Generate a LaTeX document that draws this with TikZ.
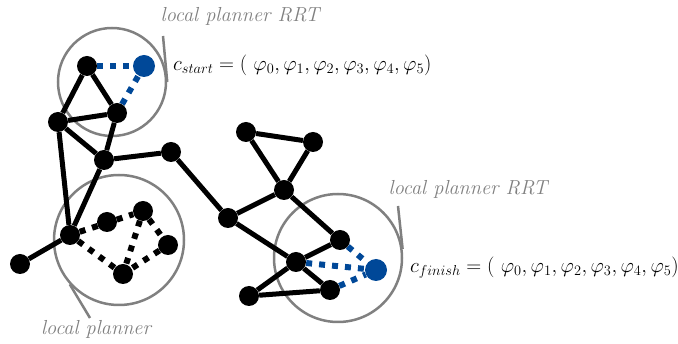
\documentclass[tikz,border=0pt]{standalone}
\usepackage{amssymb}
\usepackage{tikz}
\usetikzlibrary{shapes,arrows,backgrounds,positioning,fit}
\definecolor{rrtblue}{RGB}{0,72,152}
\definecolor{ringgray}{RGB}{128,128,128}

\begin{document}
\begin{tikzpicture}[x=1pt,y=-1pt]
			\tikzstyle{Vertex}	= [circle, fill=black, minimum size=20pt, inner sep=0pt]
			\tikzstyle{Goal}	= [circle, fill=rrtblue, minimum size=22pt, inner sep=0pt]
			\tikzstyle{Ring}	= [circle, draw=ringgray, line width=2.5pt, inner sep=0pt]
			\tikzstyle{Tail}	= [draw=ringgray, line width=2.5pt]
			\tikzstyle{Tag}		= [text=ringgray, font=\fontsize{20.3}{24}\selectfont\itshape]
			\tikzstyle{Conf}	= [font=\fontsize{20.8}{25}\selectfont, inner sep=0pt]
			\tikzstyle{Edge}	= [line width=5pt]
			\tikzstyle{Local}	= [line width=6pt, dash pattern=on 6pt off 7pt]
			\tikzstyle{RRT}		= [Local, rrtblue]

			\useasboundingbox (0,0) rectangle (678,344);

			% roadmap
			\node (a1) at (87,66) [Vertex] {};
			\node (a2) at (117,113) [Vertex] {};
			\node (a3) at (58,122) [Vertex] {};
			\node (a4) at (104,160) [Vertex] {};
			\node (a5) at (171,152) [Vertex] {};
			\node (l1) at (70,235) [Vertex] {};
			\node (l0) at (20,264) [Vertex] {};
			\node (n1) at (228,218) [Vertex] {};
			\node (t1) at (246,132) [Vertex] {};
			\node (t2) at (313,142) [Vertex] {};
			\node (t3) at (284,190) [Vertex] {};
			\node (f1) at (340,240) [Vertex] {};
			\node (f2) at (296,262) [Vertex] {};
			\node (f3) at (330,290) [Vertex] {};
			\node (f4) at (249,296) [Vertex] {};

			% local planner samples
			\node (i1) at (107,222) [Vertex] {};
			\node (i2) at (143,211) [Vertex] {};
			\node (i3) at (168,245) [Vertex] {};
			\node (i4) at (123,274) [Vertex] {};

			\node (s) at (144,66) [Goal] {};
			\node (g) at (376,270) [Goal] {};

			\node (cs) at (173,65) [Conf, anchor=west] {$c_{start} = (\ \varphi_0, \varphi_1, \varphi_2, \varphi_3, \varphi_4, \varphi_5)$};
			\node (cg) at (410,268) [Conf, anchor=west] {$c_{finish} = (\ \varphi_0, \varphi_1, \varphi_2, \varphi_3, \varphi_4, \varphi_5)$};

			\node (L1) at (240,16) [Tag] {local planner RRT};
			\node (L2) at (96,329) [Tag] {local planner};
			\node (L3) at (468,189) [Tag] {local planner RRT};

			\begin{pgfonlayer}{background}
				\node (C1) at (112,82) [Ring, minimum size=108pt] {};
				\node (C2) at (119,240) [Ring, minimum size=130pt] {};
				\node (C3) at (338,258) [Ring, minimum size=128pt] {};
				\coordinate (e1) at (163,36);
				\coordinate (e2) at (90,318);
				\coordinate (e3) at (398,206);
				\draw [Tail] (e1) to (C1.east);
				\draw [Tail] (e2) to (C2.222);
				\draw [Tail] (e3) to (C3.8);

				\draw [-] (a1) to (a2) [Edge];
				\draw [-] (a1) to (a3) [Edge];
				\draw [-] (a3) to (a2) [Edge];
				\draw [-] (a3) to (a4) [Edge];
				\draw [-] (a2) to (a4) [Edge];
				\draw [-] (a3) to (l1) [Edge];
				\draw [-] (a4) to (l1) [Edge];
				\draw [-] (l1) to (l0) [Edge];
				\draw [-] (a4) to (a5) [Edge];
				\draw [-] (a5) to (n1) [Edge];
				\draw [-] (n1) to (t3) [Edge];
				\draw [-] (n1) to (f2) [Edge];
				\draw [-] (t3) to (t1) [Edge];
				\draw [-] (t3) to (t2) [Edge];
				\draw [-] (t1) to (t2) [Edge];
				\draw [-] (t3) to (f1) [Edge];
				\draw [-] (f1) to (f2) [Edge];
				\draw [-] (f2) to (f3) [Edge];
				\draw [-] (f2) to (f4) [Edge];
				\draw [-] (f4) to (f3) [Edge];

				\draw [-] (l1) to (i2) [Local];
				\draw [-] (l1) to (i4) [Local];
				\draw [-] (i2) to (i3) [Local];
				\draw [-] (i2) to (i4) [Local];
				\draw [-] (i3) to (i4) [Local];

				\draw [-] (a1) to (s) [RRT];
				\draw [-] (a2) to (s) [RRT];
				\draw [-] (f2) to (g) [RRT];
				\draw [-] (f1) to (g) [RRT];
				\draw [-] (f3) to (g) [RRT];
			\end{pgfonlayer}
		\end{tikzpicture}
\end{document}
